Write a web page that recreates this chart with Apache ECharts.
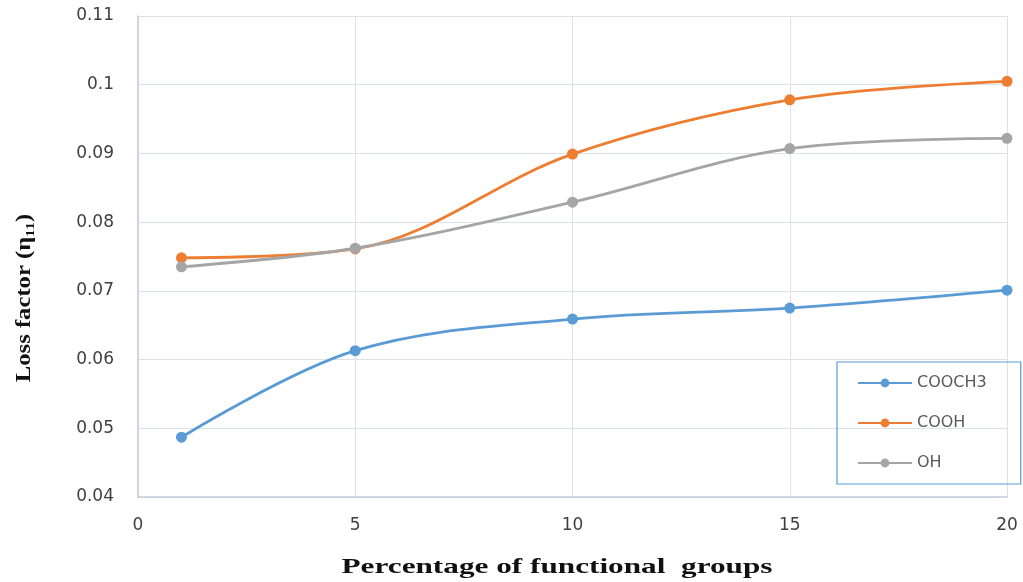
<!DOCTYPE html>
<html>
<head>
<meta charset="utf-8">
<script src="https://cdn.jsdelivr.net/npm/echarts@6/dist/echarts.min.js"></script>
<style>
  html, body { margin: 0; padding: 0; background: #fff; }
  #chart { width: 1023px; height: 582px; }
</style>
</head>
<body>
<div id="chart"></div>
<script>
// Percentage of functional groups
const percentages = [1, 5, 10, 15, 20];
// Loss factor for each functional group
const cooch3 = [0.0487, 0.0613, 0.0659, 0.0675, 0.0701];
const cooh   = [0.0748, 0.0761, 0.0899, 0.0978, 0.1005];
const oh     = [0.0735, 0.0762, 0.0829, 0.0907, 0.0922];
const seriesNames = ['COOCH3', 'COOH', 'OH'];
const seriesColors = ['#5b9bd5', '#ed7d31', '#a5a5a5'];
const xTitle = 'Percentage of functional  groups';
const yTitle = 'Loss factor (η₁₁)';

const pairs = vals => percentages.map((p, i) => [p, vals[i]]);

const chart = echarts.init(document.getElementById('chart'));
const tickFont = '"DejaVu Sans", Verdana, sans-serif';
const titleFont = 'bold 22px "Liberation Serif", "Times New Roman", serif';

const mkSeries = (name, vals, color) => ({
  name: name,
  type: 'line',
  data: pairs(vals),
  smooth: 0.35,
  symbol: 'circle',
  symbolSize: 11,
  lineStyle: { color: color, width: 2.8 },
  itemStyle: { color: color },
  z: 3
});

chart.setOption({
  animation: false,
  backgroundColor: '#ffffff',
  grid: { left: 138, right: 16, top: 16, bottom: 85 },
  legend: {
    orient: 'vertical',
    left: 837,
    top: 362,
    padding: [13, 34, 13, 20],
    itemGap: 24,
    itemWidth: 54,
    itemHeight: 11,
    borderColor: '#5b9bd5',
    borderWidth: 1.2,
    textStyle: { color: '#595959', fontSize: 16, fontFamily: tickFont },
    data: seriesNames
  },
  xAxis: {
    type: 'value',
    min: 0,
    max: 20,
    interval: 5,
    axisLine: { show: true, lineStyle: { color: '#c3cbdc', width: 1.5 } },
    axisTick: { show: false },
    axisLabel: { color: '#404040', fontSize: 17, margin: 20, fontFamily: tickFont },
    splitLine: { show: true, lineStyle: { color: '#dde1ea', width: 1 } }
  },
  yAxis: {
    type: 'value',
    min: 0.04,
    max: 0.11,
    interval: 0.01,
    axisLine: { show: true, lineStyle: { color: '#c3cbdc', width: 1.5 } },
    axisTick: { show: false },
    axisLabel: {
      color: '#404040', fontSize: 17, margin: 24,
      fontFamily: tickFont,
      formatter: v => String(parseFloat(v.toFixed(2)))
    },
    splitLine: { show: true, lineStyle: { color: '#dde1ea', width: 1 } }
  },
  // Axis titles, set in a wide bold serif
  graphic: [
    {
      type: 'text',
      x: 557, y: 567,
      scaleX: 1.42,
      style: { text: xTitle, font: titleFont, fill: '#111', align: 'center', verticalAlign: 'middle' }
    },
    {
      type: 'text',
      x: 24, y: 298,
      rotation: Math.PI / 2,
      scaleX: 1.12,
      style: { text: yTitle, font: titleFont, fill: '#111', align: 'center', verticalAlign: 'middle' }
    }
  ],
  series: [
    mkSeries(seriesNames[0], cooch3, seriesColors[0]),
    mkSeries(seriesNames[1], cooh, seriesColors[1]),
    mkSeries(seriesNames[2], oh, seriesColors[2])
  ]
});
</script>
</body>
</html>
